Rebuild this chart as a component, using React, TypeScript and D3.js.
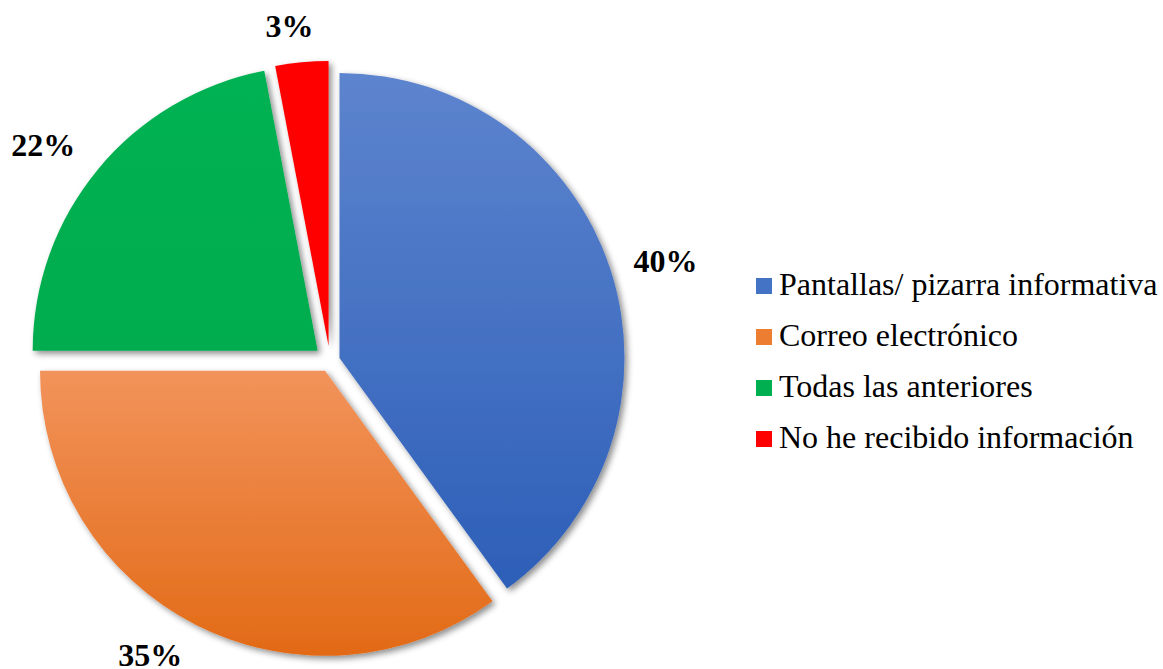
import React from "react";
import * as d3 from "d3";

const categories = [
  "Pantallas/ pizarra informativa",
  "Correo electrónico",
  "Todas las anteriores",
  "No he recibido información",
];
const values = [40, 35, 22, 3];
const labels = ["40%", "35%", "22%", "3%"];

// styling / layout
const colorsTop = ["#5D84CE", "#F2935B", "#00B252", "#FF0000"];
const colorsBottom = ["#2D5FB8", "#E26A16", "#00AC4E", "#FF0000"];
const legendColors = ["#4472C4", "#ED7D31", "#00B050", "#FF0000"];
const explode = [10, 11, 16, 15];
const labelDist = [350, 345, 359, 337];
const labelNudgeDeg = [1.4, 4.4, -2.6, -1.5];

const W = 1163;
const H = 669;
const cx = 330;
const cy = 361;
const R = 285;
const FONT = "'Liberation Serif', 'Times New Roman', serif";

export default function App() {
  const pie = d3
    .pie<number>()
    .sort(null)
    .startAngle(0)
    .endAngle(2 * Math.PI)
    .value((d) => d);
  const arcs = pie(values);
  const arc = d3.arc<d3.PieArcDatum<number>>().innerRadius(0).outerRadius(R);

  return (
    <svg
      width={W}
      height={H}
      style={{ position: "absolute", left: 0, top: 0, background: "#fff" }}
    >
      <defs>
        <filter id="shadow" x="-20%" y="-20%" width="140%" height="140%">
          <feDropShadow dx="3" dy="3" stdDeviation="3" floodColor="#000" floodOpacity="0.45" />
        </filter>
        {arcs.map((_, i) => (
          <linearGradient key={i} id={`g${i}`} x1="0" y1="0" x2="0" y2="1">
            <stop offset="0" stopColor={colorsTop[i]} />
            <stop offset="1" stopColor={colorsBottom[i]} />
          </linearGradient>
        ))}
      </defs>
      <g transform={`translate(${cx},${cy})`}>
        {arcs.map((a, i) => {
          const mid = (a.startAngle + a.endAngle) / 2;
          const dx = Math.sin(mid) * explode[i];
          const dy = -Math.cos(mid) * explode[i];
          return (
            <path
              key={i}
              d={arc(a) || ""}
              transform={`translate(${dx},${dy})`}
              fill={`url(#g${i})`}
              filter="url(#shadow)"
            />
          );
        })}
        {arcs.map((a, i) => {
          const mid = (a.startAngle + a.endAngle) / 2 + (labelNudgeDeg[i] * Math.PI) / 180;
          const x = Math.sin(mid) * labelDist[i];
          const y = -Math.cos(mid) * labelDist[i];
          return (
            <text
              key={i}
              x={x}
              y={y}
              textAnchor="middle"
              dominantBaseline="central"
              fontFamily={FONT}
              fontWeight="bold"
              fontSize={32}
              fill="#000"
            >
              {labels[i]}
            </text>
          );
        })}
      </g>
      <g transform="translate(756,278)">
        {categories.map((c, i) => (
          <g key={i} transform={`translate(0,${i * 51})`}>
            <rect x={0} y={0} width={16} height={16} fill={legendColors[i]} />
            <text x={23} y={17} fontFamily={FONT} fontSize={32} fill="#000">
              {c}
            </text>
          </g>
        ))}
      </g>
    </svg>
  );
}
